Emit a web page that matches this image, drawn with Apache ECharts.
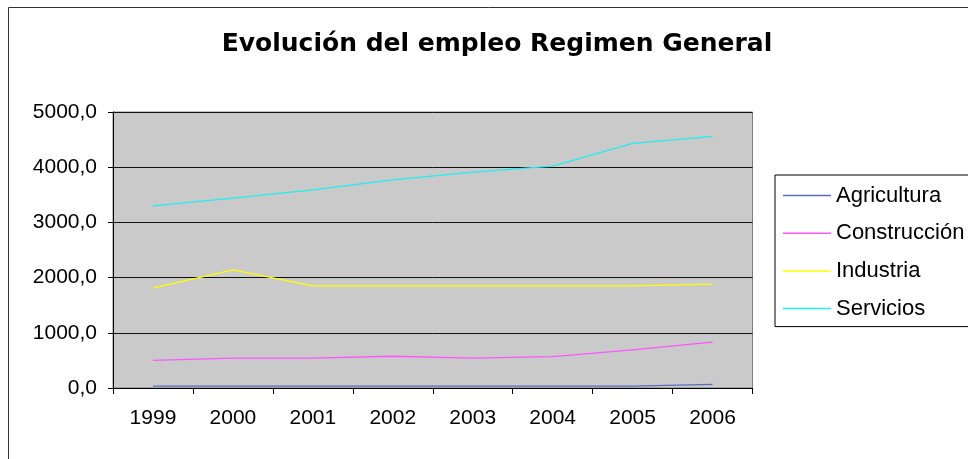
<!DOCTYPE html>
<html>
<head>
<meta charset="utf-8">
<script src="https://cdn.jsdelivr.net/npm/echarts@6/dist/echarts.min.js"></script>
<style>html,body{margin:0;padding:0;background:#fff}#c{width:968px;height:459px}</style>
</head>
<body>
<div id="c"></div>
<script>
const years = ['1999','2000','2001','2002','2003','2004','2005','2006'];
const agricultura = [35, 35, 35, 35, 35, 35, 35, 65];
const construccion = [500, 540, 540, 575, 540, 570, 690, 830];
const industria = [1810, 2140, 1850, 1850, 1850, 1850, 1850, 1880];
const servicios = [3300, 3440, 3590, 3770, 3910, 4020, 4430, 4560];
const seriesNames = ['Agricultura', 'Construcción', 'Industria', 'Servicios'];
const seriesColors = ['#5a6cc0', '#ff55ff', '#ffff00', '#22eeee'];
const seriesData = [agricultura, construccion, industria, servicios];

const FONT = "'Liberation Sans'";
const chart = echarts.init(document.getElementById('c'));
chart.setOption({
  animation: false,
  backgroundColor: '#fff',
  title: {
    text: 'Evolución del empleo Regimen General',
    left: 492, textAlign: 'center', top: 27,
    textStyle: {fontFamily: 'DejaVu Sans', fontWeight: 'bold', fontSize: 25, color: '#000'}
  },
  graphic: [{
    type: 'rect', silent: true, z: -1,
    shape: {x: 8.5, y: 7.5, width: 1000, height: 500},
    style: {fill: 'none', stroke: '#333', lineWidth: 1}
  }],
  legend: {
    orient: 'vertical', left: 775, top: 175,
    padding: [9.5, 12, 7, 8],
    icon: 'rect',
    itemWidth: 48, itemHeight: 1.5, itemGap: 15.7,
    borderColor: '#000', borderWidth: 1,
    textStyle: {fontFamily: FONT, fontSize: 22, color: '#000', lineHeight: 21},
    itemTextGap: 6,
    data: seriesNames
  },
  grid: {
    left: 113, right: 215.5, top: 112, bottom: 71,
    show: true, backgroundColor: '#cacaca', borderColor: '#808080', borderWidth: 1
  },
  xAxis: {
    type: 'category', data: years, boundaryGap: true,
    axisLine: {lineStyle: {color: '#000'}},
    axisTick: {show: true, length: 6, lineStyle: {color: '#000'}},
    axisLabel: {fontFamily: FONT, fontSize: 21, color: '#000', margin: 20}
  },
  yAxis: {
    type: 'value', min: 0, max: 5000, interval: 1000,
    axisLine: {show: true, lineStyle: {color: '#000'}},
    axisTick: {show: true, length: 5, lineStyle: {color: '#000'}},
    splitLine: {lineStyle: {color: '#111', width: 1}},
    axisLabel: {
      fontFamily: FONT, fontSize: 21, color: '#000', margin: 16,
      formatter: v => v.toFixed(1).replace('.', ',')
    }
  },
  series: seriesNames.map((n, i) => ({
    name: n, type: 'line', data: seriesData[i],
    symbol: 'none', smooth: false,
    lineStyle: {color: seriesColors[i], width: 1.3},
    itemStyle: {color: seriesColors[i]}
  }))
});
</script>
</body>
</html>
